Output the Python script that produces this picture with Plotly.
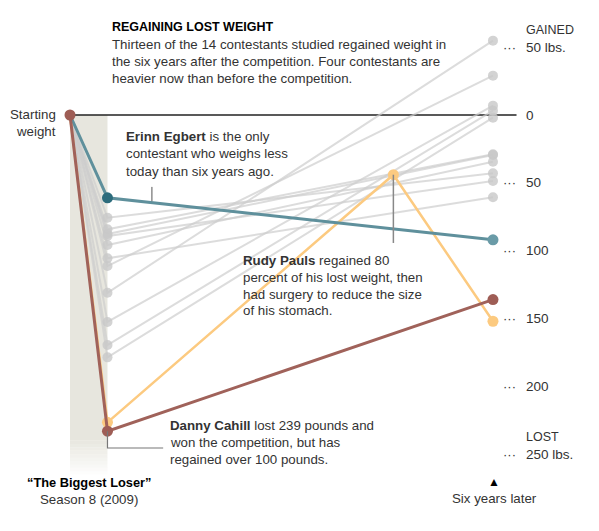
import plotly.graph_objects as go

# x positions are months since the start of the season; y is pounds lost
months = [0, 7, 79]
rudy_months = [0, 7, 60.4, 79]

grey_finale_lost = [75.7, 84.2, 87.7, 89.2, 95.8, 105.6, 111.3, 131.0, 152.5, 169.5, 178.6]
grey_six_years_lost = [43.0, 29.0, 29.5, 48.6, 34.4, 60.6, -29.0, -54.8, -6.9, -3.2, 2.0]

erinn_lost = [0, 61, 92]
rudy_lost = [0, 226.5, 44, 152]
danny_lost = [0, 233, 136]

tick_values = [-50, 0, 50, 100, 150, 200, 250]
tick_labels = ['50 lbs.', '0', '50', '100', '150', '200', '250 lbs.']

W, H = 599, 531
OFF = 8  # page body margin
FW, FH = W - OFF, H - OFF
FONT = 'Liberation Sans'
TEXT = '#333333'
GREY_LINE = 'rgba(205,205,205,0.7)'
GREY_DOT = 'rgba(200,200,200,0.8)'
TEAL = '#5f909c'
BROWN = '#a0625a'
ORANGE = '#fcca80'

X0, XS = 70, 5.354   # px of month 0, px per month
Y0, YS = 115, 1.357  # px of 0 lbs, px per pound


def px(x):
    return (x - OFF) / FW


def py(y):
    return 1 - (y - OFF) / FH


fig = go.Figure()

# grey contestants
for m, r in zip(grey_finale_lost, grey_six_years_lost):
    fig.add_trace(go.Scatter(x=months, y=[0, m, r], mode='lines',
                             line=dict(color=GREY_LINE, width=2), hoverinfo='skip'))
fig.add_trace(go.Scatter(x=[months[1]] * len(grey_finale_lost) + [months[2]] * len(grey_six_years_lost),
                         y=grey_finale_lost + grey_six_years_lost, mode='markers',
                         marker=dict(color=GREY_DOT, size=10), hoverinfo='skip'))

# Rudy Pauls
fig.add_trace(go.Scatter(x=rudy_months, y=rudy_lost, mode='lines',
                         line=dict(color=ORANGE, width=2.5), hoverinfo='skip'))
fig.add_trace(go.Scatter(x=rudy_months[1:], y=rudy_lost[1:], mode='markers',
                         marker=dict(color=ORANGE, size=11), hoverinfo='skip'))

# Erinn Egbert
fig.add_trace(go.Scatter(x=months, y=erinn_lost, mode='lines',
                         line=dict(color=TEAL, width=3), hoverinfo='skip'))
fig.add_trace(go.Scatter(x=months[1:], y=erinn_lost[1:], mode='markers',
                         marker=dict(color=['#2d6c7c', '#6a9ba7'], size=11), hoverinfo='skip'))

# Danny Cahill
fig.add_trace(go.Scatter(x=months, y=danny_lost, mode='lines',
                         line=dict(color=BROWN, width=3), hoverinfo='skip'))
fig.add_trace(go.Scatter(x=months, y=danny_lost, mode='markers',
                         marker=dict(color='#9e5d55', size=11), hoverinfo='skip'))

shapes = []
# season band with a faded bottom
shapes.append(dict(type='rect', xref='x', yref='y', x0=0, x1=7, y0=0, y1=240,
                   fillcolor='#e7e6de', line_width=0, layer='below'))
for i in range(10):
    shapes.append(dict(type='rect', xref='x', yref='y', x0=0, x1=7,
                       y0=240 + i * 2.5, y1=242.5 + i * 2.5,
                       fillcolor='#e7e6de', opacity=1 - (i + 1) / 11,
                       line_width=0, layer='below'))
# zero line
shapes.append(dict(type='line', xref='x', yref='y', x0=0, x1=83.4, y0=0, y1=0,
                   line=dict(color='#222222', width=1.5), layer='below'))
# leader lines
shapes.append(dict(type='line', xref='x', yref='y', x0=15.3, x1=15.3, y0=53, y1=63.5,
                   line=dict(color='#555555', width=1)))
shapes.append(dict(type='line', xref='x', yref='y', x0=60.4, x1=60.4, y0=44, y1=94.3,
                   line=dict(color='#888888', width=1.5)))
shapes.append(dict(type='path', xref='x', yref='y',
                   path='M 7,233 L 7,245.4 L 17.4,245.4',
                   line=dict(color='#777777', width=1.2)))

annotations = []


def text(x, y, s, size=13.3, color=TEXT, anchor='left'):
    annotations.append(dict(xref='paper', yref='paper', x=px(x), y=py(y), text=s,
                            showarrow=False, xanchor=anchor, yanchor='middle',
                            font=dict(family=FONT, size=size, color=color)))


def block(x, y0, lines, step=17.3, **kw):
    for i, s in enumerate(lines):
        text(x, y0 + i * step, s, **kw)


text(110, 26.7, '<b>REGAINING LOST WEIGHT</b>', size=12.5, color='#000000')
block(110, 44, ['Thirteen of the 14 contestants studied regained weight in',
                'the six years after the competition. Four contestants are',
                'heavier now than before the competition.'])
block(58, 115, ['Starting', 'weight'], step=16.7, anchor='right')
block(124, 136, ['<b>Erinn Egbert</b> is the only',
                 'contestant who weighs less',
                 'today than six years ago.'], step=17.5)
block(241, 260.7, ['<b>Rudy Pauls</b> regained 80',
                   'percent of his lost weight, then',
                   'had surgery to reduce the size',
                   'of his stomach.'], step=16.7)
block(168, 425, ['<b>Danny Cahill</b> lost 239 pounds and',
                 'won the competition, but has',
                 'regained over 100 pounds.'], step=17)
text(89, 482.7, '<b>“The Biggest Loser”</b>', size=12.8, color='#000000', anchor='center')
text(89, 499, 'Season 8 (2009)', anchor='center')
text(494, 481.7, '▲', size=12, color='#000000', anchor='center')
text(494, 498.3, 'Six years later', anchor='center')

# right-hand scale
for v, lab in zip(tick_values, tick_labels):
    annotations.append(dict(xref='paper', yref='y', x=px(524), y=v, text=lab,
                            showarrow=False, xanchor='left', yanchor='middle',
                            font=dict(family=FONT, size=13.5, color=TEXT)))
    if v != 0:
        annotations.append(dict(xref='paper', yref='y', x=px(509), y=v, text='···',
                                showarrow=False, xanchor='center', yanchor='middle',
                                font=dict(family=FONT, size=13, color=TEXT)))
for v, lab in [(-50, 'GAINED'), (250, 'LOST')]:
    annotations.append(dict(xref='paper', yref='y', x=px(524), y=v, yshift=17.5, text=lab,
                            showarrow=False, xanchor='left', yanchor='middle',
                            font=dict(family=FONT, size=12.5, color=TEXT)))

fig.update_layout(
    width=FW, height=FH,
    margin=dict(l=0, r=0, t=0, b=0),
    paper_bgcolor='white', plot_bgcolor='white',
    showlegend=False,
    shapes=shapes,
    annotations=annotations,
    xaxis=dict(range=[(OFF - X0) / XS, (W - X0) / XS], visible=False, fixedrange=True),
    yaxis=dict(range=[(H - Y0) / YS, (OFF - Y0) / YS], visible=False, fixedrange=True),
)

fig.write_html('out.html')
